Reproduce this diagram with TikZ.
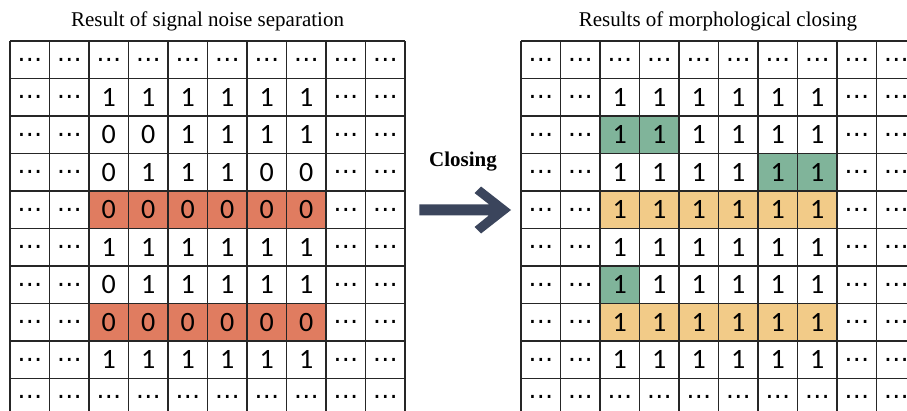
\documentclass[tikz,border=0pt]{standalone}
\usepackage{fontspec}
\setmainfont{Liberation Serif}
\newfontfamily\cellfont{Carlito}
\newfontfamily\dotfont{DejaVu Sans}
\definecolor{orng}{RGB}{224,124,96}
\definecolor{grn}{RGB}{128,180,154}
\definecolor{ylw}{RGB}{242,203,136}
\definecolor{navy}{RGB}{59,69,92}
\begin{document}
\begin{tikzpicture}[x=1pt,y=-1pt,
  cell/.style={font=\cellfont\fontsize{28}{30}\selectfont, inner sep=0pt, text=black},
  dotcell/.style={font=\dotfont\fontsize{25}{30}\selectfont, inner sep=0pt, text=black},
  gridline/.style={line width=1.3pt, draw=black!85},
  ttl/.style={font=\fontsize{21}{25}\selectfont, inner sep=0pt, anchor=base}]
\useasboundingbox (0,0) rectangle (907,410);
\clip (0,0) rectangle (907,410);
\fill[white] (0,0) rectangle (907,410);
\def\W{39.5}\def\H{37.5}\def\LX{10}\def\RX{521}\def\TY{41}
% ---------- fills ----------
\foreach \r in {4,7}
  \fill[orng] (\LX+2*\W,\TY+\r*\H) rectangle (\LX+8*\W,\TY+\r*\H+\H);
\foreach \r in {4,7}
  \fill[ylw] (\RX+2*\W,\TY+\r*\H) rectangle (\RX+8*\W,\TY+\r*\H+\H);
\fill[grn] (\RX+2*\W,\TY+2*\H) rectangle (\RX+4*\W,\TY+3*\H);
\fill[grn] (\RX+6*\W,\TY+3*\H) rectangle (\RX+8*\W,\TY+4*\H);
\fill[grn] (\RX+2*\W,\TY+6*\H) rectangle (\RX+3*\W,\TY+7*\H);
% ---------- grid lines ----------
\foreach \i in {0,...,10} {
  \draw[gridline] (\LX+\i*\W,\TY) -- (\LX+\i*\W,420);
  \draw[gridline] (\LX,\TY+\i*\H) -- (\LX+10*\W,\TY+\i*\H);
}
\foreach \i in {0,...,11} {
  \draw[gridline] (\RX+\i*\W,\TY) -- (\RX+\i*\W,420);
}
\foreach \i in {0,...,10} {
  \draw[gridline] (\RX,\TY+\i*\H) -- (\RX+11*\W,\TY+\i*\H);
}
% ---------- dots ----------
\foreach \c in {0,...,9} {
  \node[dotcell] (L-0-\c) at (\LX+\c*\W+\W/2,\TY+\H/2) {…};
  \node[dotcell] (L-9-\c) at (\LX+\c*\W+\W/2,\TY+9*\H+\H/2) {…};
  \node[dotcell] (R-0-\c) at (\RX+\c*\W+\W/2,\TY+\H/2) {…};
  \node[dotcell] (R-9-\c) at (\RX+\c*\W+\W/2,\TY+9*\H+\H/2) {…};
}
\foreach \r in {1,...,8}
  \foreach \c in {0,1,8,9} {
    \node[dotcell] (L-\r-\c) at (\LX+\c*\W+\W/2,\TY+\r*\H+\H/2) {…};
    \node[dotcell] (R-\r-\c) at (\RX+\c*\W+\W/2,\TY+\r*\H+\H/2) {…};
  }
% ---------- digits ----------
\foreach \r/\vals in {1/{1,1,1,1,1,1},2/{0,0,1,1,1,1},3/{0,1,1,1,0,0},4/{0,0,0,0,0,0},
                      5/{1,1,1,1,1,1},6/{0,1,1,1,1,1},7/{0,0,0,0,0,0},8/{1,1,1,1,1,1}}
  \foreach \v [count=\c from 2] in \vals {
    \node[cell] (L-\r-\c) at (\LX+\c*\W+\W/2,\TY+\r*\H+\H/2) {\v};
    \node[cell] (R-\r-\c) at (\RX+\c*\W+\W/2,\TY+\r*\H+\H/2) {1};
  }
% ---------- titles ----------
\node[ttl] (t1) at (207.5,26.7) {Result of signal noise separation};
\node[ttl] (t2) at (718,26.7) {Results of morphological closing};
\node[ttl, font=\bfseries\fontsize{21}{25}\selectfont] (cl) at (463,166) {Closing};
% ---------- arrow ----------
\fill[navy] (419.3,204.3) -- (489,204.3) -- (474.5,193) -- (481,186.5) -- (511,210)
  -- (481,233.5) -- (474.5,227) -- (489,215.3) -- (419.3,215.3) -- cycle;
\end{tikzpicture}
\end{document}
